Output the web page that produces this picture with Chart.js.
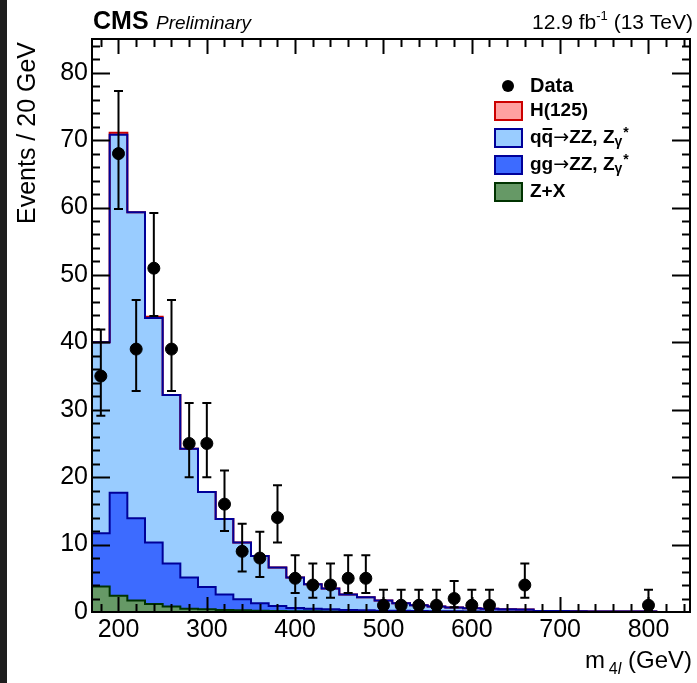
<!DOCTYPE html>
<html>
<head>
<meta charset="utf-8">
<script src="https://cdn.jsdelivr.net/npm/chart.js@4.4.0/dist/chart.umd.min.js"></script>
<style>
  html, body { margin: 0; padding: 0; background: #fff; }
  #wrap { position: relative; width: 697px; height: 683px; }
</style>
</head>
<body>
<div id="wrap"><canvas id="chart" width="697" height="683"></canvas></div>
<script>
// bin low edges (20 GeV bins), last entry closes the final bin
const binEdges = [170, 190, 210, 230, 250, 270, 290, 310, 330, 350, 370, 390, 410, 430, 450, 470,
  490, 510, 530, 550, 570, 590, 610, 630, 650, 670, 690, 710, 730, 750, 770, 790, 810];

// expected events per bin, one array per process
const zPlusX = [3.8, 2.4, 1.7, 1.2, 0.8, 0.5, 0.4, 0.3, 0.25, 0.2, 0.15, 0.12, 0.1, 0.08, 0.06, 0.05,
  0.04, 0.03, 0.03, 0.02, 0.02, 0.02, 0.01, 0.01, 0.01, 0.01, 0.01, 0.01, 0.01, 0.01, 0.01, 0.01];
const ggZZ = [7.9, 15.3, 12.2, 9.1, 6.4, 4.6, 3.3, 2.3, 1.65, 1.1, 0.75, 0.48, 0.4, 0.32, 0.24, 0.2,
  0.16, 0.15, 0.12, 0.1, 0.08, 0.07, 0.06, 0.05, 0.05, 0.04, 0.03, 0.03, 0.02, 0.02, 0.02, 0.02];
const qqZZ = [28.3, 53.1, 45.4, 33.3, 25.0, 19.1, 14.1, 11.2, 8.4, 7.0, 5.7, 4.5, 3.6, 3.1, 2.3, 1.95,
  1.5, 1.12, 0.85, 0.68, 0.55, 0.47, 0.43, 0.34, 0.3, 0.11, 0.09, 0.07, 0.06, 0.05, 0.04, 0.03];
const higgs = [0, 0.3, 0, 0.2, 0, 0, 0, 0, 0, 0, 0, 0, 0, 0, 0, 0,
  0, 0, 0, 0, 0, 0, 0, 0, 0, 0, 0, 0, 0, 0, 0, 0];

// observed data with asymmetric error bars (lower / upper ends)
const dataMass = [180, 200, 220, 240, 260, 280, 300, 320, 340, 360, 380, 400, 420, 440, 460, 480,
  500, 520, 540, 560, 580, 600, 620, 660, 800];
const dataEvents = [35, 68, 39, 51, 39, 25, 25, 16, 9, 8, 14, 5, 4, 4, 5, 5, 1, 1, 1, 1, 2, 1, 1, 4, 1];
const dataLow = [29.1, 59.8, 32.8, 43.9, 32.8, 20.0, 20.0, 12.0, 6.0, 5.2, 10.3, 2.8, 2.1, 2.1, 2.8, 2.8,
  0.17, 0.17, 0.17, 0.17, 0.7, 0.17, 0.17, 2.1, 0.17];
const dataHigh = [41.9, 77.3, 46.3, 59.2, 46.3, 31.0, 31.0, 21.0, 13.1, 11.9, 18.8, 8.4, 7.2, 7.2, 8.4, 8.4,
  3.3, 3.3, 3.3, 3.3, 4.6, 3.3, 3.3, 7.2, 3.3];

const xTickLabels = [200, 300, 400, 500, 600, 700, 800];
const yTickLabels = [0, 10, 20, 30, 40, 50, 60, 70, 80];

const FONT = '"Liberation Sans", Arial, Helvetica, sans-serif';

// stack the processes and turn them into step points
function stackPoints(parts) {
  const pts = [];
  for (let i = 0; i < binEdges.length - 1; i++) {
    let sum = 0;
    parts.forEach(p => { sum += p[i]; });
    pts.push({ x: binEdges[i], y: sum });
  }
  pts.push({ x: binEdges[binEdges.length - 1], y: pts[pts.length - 1].y });
  return pts;
}

const dataPoints = dataMass.map((m, i) => ({ x: m, y: dataEvents[i] }));

const histStyle = { pointRadius: 0, borderWidth: 2, stepped: true, tension: 0 };

const axesPlugin = {
  id: 'axesPlugin',
  afterDatasetsDraw(chart) {
    const ctx = chart.ctx;
    const a = chart.chartArea;
    const xs = chart.scales.x, ys = chart.scales.y;

    // error bars
    ctx.save();
    ctx.strokeStyle = '#000';
    ctx.lineWidth = 2;
    dataMass.forEach((m, i) => {
      const px = xs.getPixelForValue(m);
      const lo = ys.getPixelForValue(dataLow[i]);
      const hi = ys.getPixelForValue(dataHigh[i]);
      ctx.beginPath();
      ctx.moveTo(px, lo); ctx.lineTo(px, hi);
      ctx.moveTo(px - 4.5, lo); ctx.lineTo(px + 4.5, lo);
      ctx.moveTo(px - 4.5, hi); ctx.lineTo(px + 4.5, hi);
      ctx.stroke();
    });

    // frame and inward ticks on all sides
    ctx.lineWidth = 2;
    ctx.strokeRect(a.left, a.top, a.right - a.left, a.bottom - a.top);
    ctx.beginPath();
    for (let v = 180; v <= 840; v += 20) {
      const px = Math.round(xs.getPixelForValue(v)) + 0.5;
      const len = v % 100 === 0 ? 15 : 8;
      ctx.moveTo(px, a.bottom); ctx.lineTo(px, a.bottom - len);
      ctx.moveTo(px, a.top); ctx.lineTo(px, a.top + len);
    }
    for (let v = 2; v <= 84; v += 2) {
      const py = Math.round(ys.getPixelForValue(v)) + 0.5;
      const len = v % 10 === 0 ? 18 : 8;
      ctx.moveTo(a.left, py); ctx.lineTo(a.left + len, py);
      ctx.moveTo(a.right, py); ctx.lineTo(a.right - len, py);
    }
    ctx.stroke();
    ctx.restore();
  },
  afterDraw(chart) {
    const ctx = chart.ctx;
    ctx.save();
    ctx.fillStyle = '#000';
    ctx.textBaseline = 'alphabetic';

    // header
    ctx.textAlign = 'left';
    ctx.font = 'bold 25px ' + FONT;
    ctx.fillText('CMS', 93, 29);
    ctx.font = 'italic 19px ' + FONT;
    ctx.fillText('Preliminary', 156, 29);

    ctx.textAlign = 'right';
    ctx.font = '21px ' + FONT;
    const tail = ' (13 TeV)';
    let x = 693;
    ctx.fillText(tail, x, 29);
    x -= ctx.measureText(tail).width;
    ctx.font = '13px ' + FONT;
    ctx.fillText('-1', x, 20);
    x -= ctx.measureText('-1').width;
    ctx.font = '21px ' + FONT;
    ctx.fillText('12.9 fb', x, 29);

    // y title
    ctx.save();
    ctx.translate(35, 42);
    ctx.rotate(-Math.PI / 2);
    ctx.textAlign = 'right';
    ctx.font = '25px ' + FONT;
    ctx.fillText('Events / 20 GeV', 0, 0);
    ctx.restore();

    // x title
    ctx.textAlign = 'right';
    x = 692;
    ctx.font = '24px ' + FONT;
    ctx.fillText(' (GeV)', x, 668);
    x -= ctx.measureText(' (GeV)').width;
    ctx.font = 'italic 16px ' + FONT;
    ctx.fillText('l', x, 674);
    x -= ctx.measureText('l').width;
    ctx.font = '16px ' + FONT;
    ctx.fillText('4', x, 674);
    x -= ctx.measureText('4').width + 4;
    ctx.font = '24px ' + FONT;
    ctx.fillText('m', x, 668);

    // legend
    ctx.textAlign = 'left';
    ctx.textBaseline = 'middle';
    const lx = 495, tx = 530;
    ctx.beginPath();
    ctx.arc(508, 86, 6, 0, Math.PI * 2);
    ctx.fill();
    ctx.font = 'bold 20px ' + FONT;
    ctx.fillText('Data', tx, 86);

    const rows = [
      { y: 111, fill: '#ffa0a0', line: '#cc0000' },
      { y: 138, fill: '#99ccff', line: '#000099' },
      { y: 165, fill: '#3d6bff', line: '#000099' },
      { y: 192, fill: '#669966', line: '#003300' }
    ];
    rows.forEach(r => {
      ctx.fillStyle = r.fill;
      ctx.fillRect(lx, r.y - 9, 27, 18);
      ctx.strokeStyle = r.line;
      ctx.lineWidth = 2;
      ctx.strokeRect(lx, r.y - 9, 27, 18);
    });
    ctx.fillStyle = '#000';
    ctx.font = 'bold 19px ' + FONT;
    ctx.fillText('H(125)', tx, 111);
    ctx.fillText('Z+X', tx, 192);

    function procLabel(first, y) {
      let px = tx;
      ctx.font = 'bold 19px ' + FONT;
      ctx.fillText(first, px, y);
      px += ctx.measureText(first).width;
      if (first === 'qq') {
        const w = ctx.measureText('q').width;
        ctx.fillRect(px - w + 1, y - 10, w - 2, 2);
      }
      ctx.font = '19px "DejaVu Sans", sans-serif';
      ctx.fillText('\u2192', px, y);
      px += ctx.measureText('\u2192').width;
      ctx.font = 'bold 19px ' + FONT;
      const mid = 'ZZ, Z';
      ctx.fillText(mid, px, y);
      px += ctx.measureText(mid).width;
      ctx.font = 'bold 14px ' + FONT;
      ctx.fillText('\u03b3', px, y + 4);
      px += ctx.measureText('\u03b3').width + 1;
      ctx.fillText('*', px, y - 5);
    }
    procLabel('qq', 138);
    procLabel('gg', 165);

    // dark strip at the left edge of the picture
    ctx.fillStyle = '#1e1e1e';
    ctx.fillRect(0, 0, 7, 683);
    ctx.restore();
  }
};

new Chart(document.getElementById('chart'), {
  type: 'line',
  data: {
    datasets: [
      {
        type: 'scatter',
        label: 'Data',
        data: dataPoints,
        pointRadius: 6,
        pointHoverRadius: 6,
        pointBackgroundColor: '#000',
        pointBorderColor: '#000',
        showLine: false
      },
      {
        label: 'qq',
        data: stackPoints([zPlusX, ggZZ, qqZZ]),
        backgroundColor: '#99ccff',
        borderColor: '#000099',
        fill: 2,
        ...histStyle
      },
      {
        label: 'gg',
        data: stackPoints([zPlusX, ggZZ]),
        backgroundColor: '#3d6bff',
        borderColor: '#000099',
        fill: 3,
        ...histStyle
      },
      {
        label: 'Z+X',
        data: stackPoints([zPlusX]),
        backgroundColor: '#669966',
        borderColor: '#003300',
        fill: 'origin',
        ...histStyle
      },
      {
        label: 'H(125)',
        data: stackPoints([zPlusX, ggZZ, qqZZ, higgs]),
        backgroundColor: '#ffa0a0',
        borderColor: '#cc0000',
        fill: 1,
        ...histStyle
      }
    ]
  },
  options: {
    responsive: false,
    animation: false,
    events: [],
    layout: { padding: { top: 39, right: 4, left: 0, bottom: 0 } },
    plugins: {
      legend: { display: false },
      tooltip: { enabled: false },
      filler: { drawTime: 'beforeDatasetsDraw' }
    },
    scales: {
      x: {
        type: 'linear',
        min: 170,
        max: 847,
        grid: { display: false, drawTicks: false },
        border: { display: false },
        ticks: {
          color: '#000',
          font: { size: 25, family: FONT },
          padding: 3,
          maxRotation: 0,
          autoSkip: false
        },
        afterBuildTicks(s) { s.ticks = xTickLabels.map(v => ({ value: v })); },
        afterFit(s) { s.height = 71; }
      },
      y: {
        min: 0,
        max: 85,
        grid: { display: false, drawTicks: false },
        border: { display: false },
        ticks: {
          color: '#000',
          font: { size: 25, family: FONT },
          padding: 4,
          autoSkip: false
        },
        afterBuildTicks(s) { s.ticks = yTickLabels.map(v => ({ value: v })); },
        afterFit(s) { s.width = 92; }
      }
    }
  },
  plugins: [axesPlugin]
});
</script>
</body>
</html>
